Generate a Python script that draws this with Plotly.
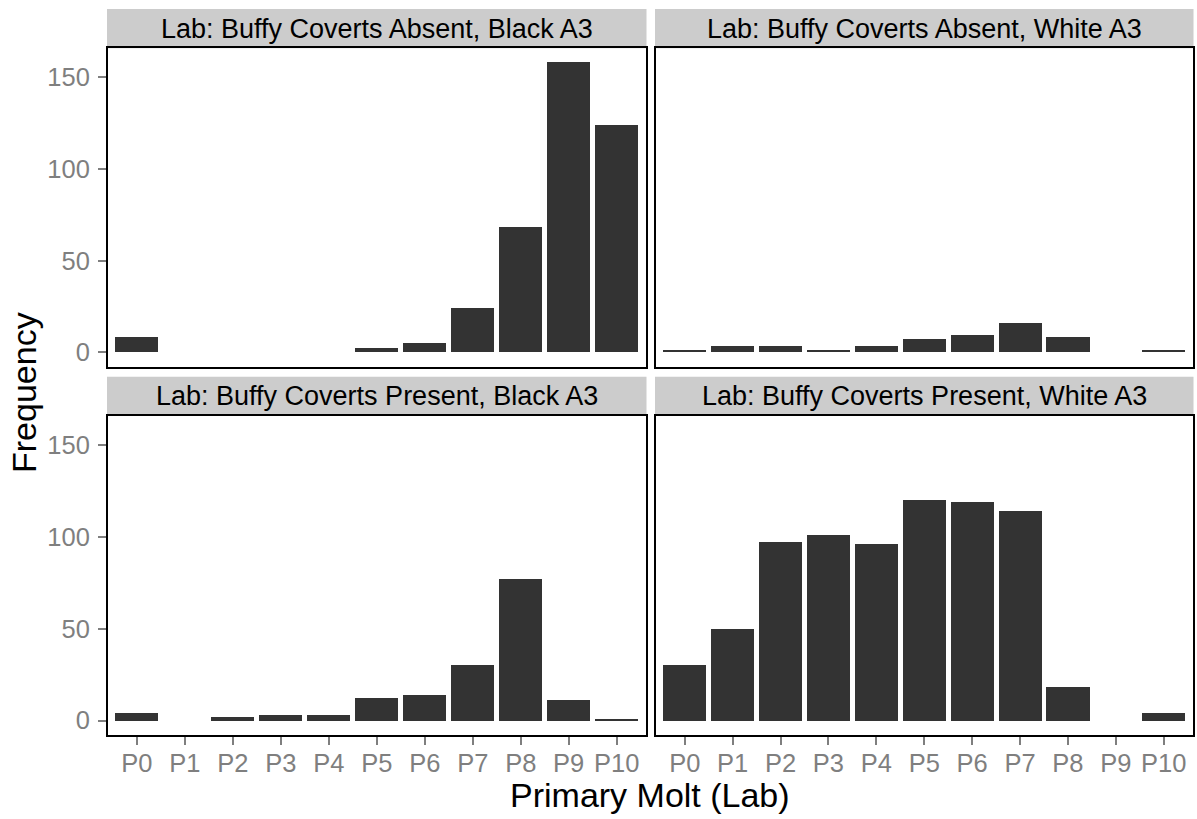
import plotly.graph_objects as go

# Primary molt score categories
categories = ["P0", "P1", "P2", "P3", "P4", "P5", "P6", "P7", "P8", "P9", "P10"]

# Frequencies per facet
absent_black = [8, 0, 0, 0, 0, 2, 5, 24, 68, 158, 124]
absent_white = [1, 3, 3, 1, 3, 7, 9, 16, 8, 0, 1]
present_black = [4, 0, 2, 3, 3, 12, 14, 30, 77, 11, 1]
present_white = [30, 50, 97, 101, 96, 120, 119, 114, 18, 0, 4]

facet_titles = [
    "Lab: Buffy Coverts Absent, Black A3",
    "Lab: Buffy Coverts Absent, White A3",
    "Lab: Buffy Coverts Present, Black A3",
    "Lab: Buffy Coverts Present, White A3",
]
y_ticks = [0, 50, 100, 150]

W, H = 1197, 819
FONT = "Liberation Sans, Arial, sans-serif"
GREY = "#7f7f7f"
BAR = "#333333"
STRIP = 27
TICK = 25.5
BIG = 34

# Panel boxes in pixels (left, right, top, bottom)
cols = [(108, 645.5), (656, 1192.5)]
rows = [(48.3, 366.7), (416, 735)]
strip_h = 39.3

def px_x(v):
    return v / W

def px_y(v):
    return 1 - v / H

fig = go.Figure()
series = [absent_black, absent_white, present_black, present_white]
x_idx = list(range(len(categories)))

for k, vals in enumerate(series):
    r, c = divmod(k, 2)
    ax = "" if k == 0 else str(k + 1)
    fig.add_trace(go.Bar(
        x=x_idx, y=vals, width=0.9, marker=dict(color=BAR, line=dict(width=0)),
        xaxis="x" + ax, yaxis="y" + ax, showlegend=False,
        hovertemplate="%{y}<extra></extra>",
    ))
    l, rr = cols[c]
    t, b = rows[r]
    xa = dict(
        domain=[px_x(l), px_x(rr)], range=[-0.6, 10.6], anchor="y" + ax,
        tickmode="array", tickvals=x_idx, ticktext=categories,
        showgrid=False, zeroline=False,
        showline=True, mirror=True, linecolor="black", linewidth=2,
        ticks="outside" if r == 1 else "", ticklen=8, tickwidth=2, tickcolor=GREY,
        showticklabels=(r == 1), ticklabelstandoff=-4,
        tickfont=dict(family=FONT, size=TICK, color=GREY),
    )
    ya = dict(
        domain=[px_y(b), px_y(t)], range=[-7.9, 165.9], anchor="x" + ax,
        tickmode="array", tickvals=y_ticks,
        showgrid=False, zeroline=False,
        showline=True, mirror=True, linecolor="black", linewidth=2,
        ticks="outside" if c == 0 else "", ticklen=8, tickwidth=2, tickcolor=GREY,
        showticklabels=(c == 0), ticklabelstandoff=3,
        tickfont=dict(family=FONT, size=TICK, color=GREY),
    )
    fig.update_layout(**{"xaxis" + ax: xa, "yaxis" + ax: ya})

    # facet strip
    fig.add_shape(type="rect", xref="paper", yref="paper",
                  x0=px_x(l - 1), x1=px_x(rr + 1), y0=px_y(t), y1=px_y(t - strip_h),
                  fillcolor="#cccccc", line=dict(width=0), layer="below")
    fig.add_annotation(xref="paper", yref="paper", x=px_x((l + rr) / 2),
                       y=px_y(t - strip_h / 2), text=facet_titles[k], showarrow=False,
                       font=dict(family=FONT, size=STRIP, color="black"),
                       xanchor="center", yanchor="middle")

fig.add_annotation(xref="paper", yref="paper", x=px_x((cols[0][0] + cols[1][1]) / 2),
                   y=px_y(795), text="Primary Molt (Lab)", showarrow=False,
                   font=dict(family=FONT, size=BIG, color="black"),
                   xanchor="center", yanchor="middle")
fig.add_annotation(xref="paper", yref="paper", x=px_x(24), y=px_y(393),
                   text="Frequency", showarrow=False, textangle=-90,
                   font=dict(family=FONT, size=BIG, color="black"),
                   xanchor="center", yanchor="middle")

fig.update_layout(
    width=W, height=H, margin=dict(l=0, r=0, t=0, b=0),
    paper_bgcolor="white", plot_bgcolor="white", bargap=0,
    font=dict(family=FONT),
)

fig.write_html("out.html")
